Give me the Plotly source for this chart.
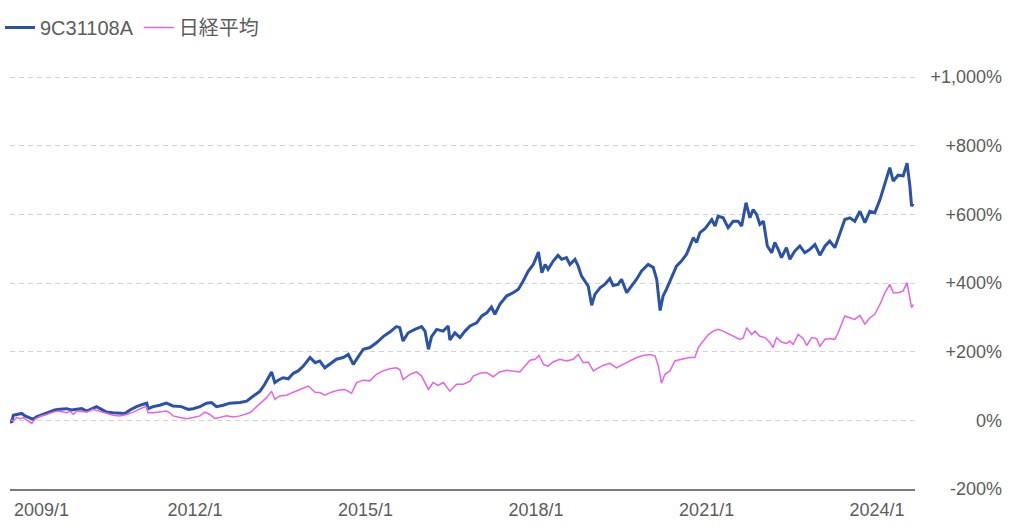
import plotly.graph_objects as go

# ---- data ----
fund_name = "9C31108A"
nikkei_name = "日経平均"

fund_dates = [
    "2008-09-29", "2008-10-10", "2008-10-20", "2008-11-21", "2008-12-13", "2009-01-04", "2009-02-05",
    "2009-02-25", "2009-03-18", "2009-04-30", "2009-06-12", "2009-07-14", "2009-08-16", "2009-09-28",
    "2009-10-30", "2009-12-01", "2010-01-03", "2010-02-04", "2010-03-06", "2010-04-08", "2010-05-10",
    "2010-06-11", "2010-07-23", "2010-09-05", "2010-10-07", "2010-11-09", "2010-12-21", "2011-02-03",
    "2011-02-25", "2011-03-05", "2011-04-07", "2011-05-19", "2011-07-01", "2011-08-13", "2011-10-06",
    "2011-11-18", "2011-12-20", "2012-02-02", "2012-03-15", "2012-04-16", "2012-05-18", "2012-06-30",
    "2012-08-12", "2012-10-16", "2012-11-28", "2013-01-10", "2013-02-22", "2013-03-24", "2013-04-15",
    "2013-05-07", "2013-05-28", "2013-06-18", "2013-07-20", "2013-08-22", "2013-09-24", "2013-10-25",
    "2013-11-27", "2014-01-09", "2014-02-11", "2014-03-13", "2014-04-14", "2014-05-16", "2014-06-28",
    "2014-08-10", "2014-09-12", "2014-10-14", "2014-11-15", "2014-12-17", "2015-01-29", "2015-03-12",
    "2015-04-24", "2015-06-06", "2015-07-18", "2015-08-09", "2015-08-30", "2015-10-02", "2015-11-14",
    "2015-12-27", "2016-01-18", "2016-02-09", "2016-02-29", "2016-04-02", "2016-05-14", "2016-06-15",
    "2016-06-26", "2016-07-28", "2016-08-30", "2016-10-01", "2016-11-03", "2016-12-15", "2017-01-17",
    "2017-02-18", "2017-03-20", "2017-04-11", "2017-05-13", "2017-06-25", "2017-08-07", "2017-09-09",
    "2017-10-10", "2017-11-12", "2017-12-14", "2018-01-16", "2018-02-07", "2018-02-28", "2018-03-19",
    "2018-04-21", "2018-05-22", "2018-06-14", "2018-07-15", "2018-08-06", "2018-09-08", "2018-09-29",
    "2018-10-20", "2018-11-11", "2018-12-02", "2018-12-24", "2019-01-14", "2019-02-16", "2019-03-18",
    "2019-04-20", "2019-05-11", "2019-06-12", "2019-07-04", "2019-08-06", "2019-09-07", "2019-10-09",
    "2019-11-10", "2019-12-22", "2020-01-24", "2020-02-15", "2020-03-08", "2020-03-27", "2020-04-18",
    "2020-05-20", "2020-06-21", "2020-07-23", "2020-08-25", "2020-09-16", "2020-10-07", "2020-10-28",
    "2020-11-19", "2020-12-21", "2021-01-12", "2021-02-03", "2021-02-24", "2021-03-16", "2021-04-17",
    "2021-05-19", "2021-06-20", "2021-07-22", "2021-08-14", "2021-09-11", "2021-10-06", "2021-10-27",
    "2021-11-18", "2021-12-09", "2022-01-01", "2022-01-26", "2022-02-23", "2022-03-15", "2022-04-06",
    "2022-04-27", "2022-05-29", "2022-06-20", "2022-07-21", "2022-08-23", "2022-09-24", "2022-10-26",
    "2022-11-28", "2022-12-30", "2023-02-01", "2023-03-03", "2023-04-05", "2023-05-06", "2023-06-08",
    "2023-07-10", "2023-08-11", "2023-09-13", "2023-10-15", "2023-11-16", "2023-12-18", "2024-01-20",
    "2024-02-21", "2024-03-23", "2024-04-14", "2024-05-16", "2024-06-17", "2024-07-12", "2024-07-30",
    "2024-08-10", "2024-08-21",
]
fund_values = [
    3, -7, 15, 17, 20, 13, 8,
    3, 10, 17, 24, 30, 32, 34,
    30, 32, 34, 27, 34, 40, 32,
    24, 22, 20, 20, 30, 40, 47,
    50, 34, 40, 44, 50, 42, 40,
    32, 34, 40, 50, 52, 40, 44,
    50, 52, 56, 71, 85, 105, 124,
    141, 110, 117, 124, 121, 137, 144,
    158, 183, 168, 173, 153, 163, 178,
    183, 192, 163, 187, 207, 212, 226,
    244, 257, 273, 270, 231, 255, 265,
    273, 260, 207, 244, 265, 260, 275,
    234, 255, 241, 260, 275, 284, 304,
    313, 330, 309, 338, 362, 372, 382,
    406, 435, 454, 490, 430, 454, 440,
    464, 481, 469, 474, 454, 469, 449,
    420, 406, 391, 335, 367, 386, 396,
    413, 393, 396, 411, 372, 391, 411,
    435, 454, 445, 411, 320, 362, 382,
    416, 449, 464, 484, 508, 532, 518,
    547, 558, 571, 585, 566, 595, 590,
    561, 580, 580, 566, 634, 590, 614,
    600, 571, 580, 508, 488, 518, 498,
    474, 503, 469, 493, 508, 488, 498,
    512, 481, 508, 522, 503, 542, 585,
    590, 580, 609, 576, 609, 605, 643,
    692, 736, 697, 714, 712, 749, 683,
    624, 632,
]

nikkei_dates = [
    "2008-09-29", "2008-10-20", "2008-11-11", "2008-12-02", "2008-12-23", "2009-01-25", "2009-02-16",
    "2009-03-07", "2009-04-09", "2009-05-22", "2009-07-03", "2009-08-05", "2009-09-06", "2009-09-28",
    "2009-10-19", "2009-11-10", "2009-12-01", "2010-02-04", "2010-03-17", "2010-04-29", "2010-06-11",
    "2010-07-23", "2010-09-05", "2010-10-18", "2010-11-30", "2011-01-12", "2011-02-14", "2011-02-25",
    "2011-03-05", "2011-04-07", "2011-05-19", "2011-07-01", "2011-07-22", "2011-08-13", "2011-09-26",
    "2011-11-08", "2011-12-20", "2012-02-02", "2012-03-04", "2012-04-06", "2012-05-08", "2012-06-09",
    "2012-07-22", "2012-09-03", "2012-10-16", "2012-12-19", "2013-02-22", "2013-04-05", "2013-05-07",
    "2013-05-28", "2013-06-29", "2013-08-12", "2013-09-24", "2013-11-06", "2013-12-29", "2014-02-11",
    "2014-03-13", "2014-04-14", "2014-05-27", "2014-07-09", "2014-08-21", "2014-10-03", "2014-11-05",
    "2014-12-17", "2015-01-29", "2015-03-12", "2015-04-24", "2015-06-06", "2015-07-18", "2015-08-09",
    "2015-08-30", "2015-10-13", "2015-11-25", "2015-12-27", "2016-02-09", "2016-03-10", "2016-04-11",
    "2016-05-14", "2016-06-26", "2016-08-08", "2016-09-20", "2016-11-03", "2016-11-23", "2017-01-06",
    "2017-02-18", "2017-03-31", "2017-05-13", "2017-06-25", "2017-08-07", "2017-09-19", "2017-10-21",
    "2017-11-23", "2017-12-25", "2018-01-20", "2018-02-17", "2018-03-19", "2018-04-21", "2018-06-03",
    "2018-07-15", "2018-08-27", "2018-09-29", "2018-10-31", "2018-12-02", "2019-01-04", "2019-02-05",
    "2019-03-07", "2019-04-20", "2019-06-02", "2019-07-14", "2019-08-26", "2019-10-09", "2019-11-21",
    "2020-01-03", "2020-02-05", "2020-02-26", "2020-03-17", "2020-04-08", "2020-05-10", "2020-06-11",
    "2020-07-23", "2020-09-16", "2020-10-17", "2020-11-08", "2020-12-10", "2021-01-12", "2021-02-13",
    "2021-03-16", "2021-04-17", "2021-06-01", "2021-07-01", "2021-08-03", "2021-08-24", "2021-09-15",
    "2021-10-17", "2021-11-08", "2021-12-09", "2022-01-12", "2022-02-13", "2022-03-04", "2022-03-26",
    "2022-04-27", "2022-05-29", "2022-06-20", "2022-07-11", "2022-08-12", "2022-09-14", "2022-10-06",
    "2022-11-08", "2022-12-09", "2022-12-30", "2023-02-01", "2023-03-03", "2023-04-05", "2023-04-26",
    "2023-06-08", "2023-07-10", "2023-08-11", "2023-09-13", "2023-10-15", "2023-11-16", "2023-12-18",
    "2024-01-20", "2024-02-21", "2024-03-23", "2024-04-14", "2024-05-16", "2024-06-17", "2024-07-12",
    "2024-07-30", "2024-08-10", "2024-08-21",
]
nikkei_values = [
    3, -2, 8, 5, 8, -2, -9,
    3, 11, 17, 24, 27, 24, 22,
    27, 17, 27, 24, 32, 27, 20,
    15, 13, 17, 24, 34, 40, 38,
    22, 22, 24, 27, 22, 13, 8,
    5, 8, 13, 24, 17, 5, 8,
    13, 10, 13, 22, 47, 66, 85,
    61, 71, 73, 82, 90, 100, 82,
    81, 73, 82, 88, 90, 79, 110,
    117, 115, 134, 144, 150, 153, 148,
    119, 134, 141, 129, 90, 110, 102,
    110, 85, 105, 105, 114, 129, 137,
    139, 127, 141, 146, 144, 141, 158,
    175, 178, 189, 163, 158, 170, 178,
    173, 178, 192, 168, 170, 144, 153,
    160, 166, 153, 163, 173, 183, 189,
    192, 187, 158, 108, 134, 144, 173,
    178, 183, 183, 212, 231, 250, 260,
    265, 260, 250, 245, 236, 240, 270,
    250, 260, 245, 241, 226, 212, 241,
    228, 224, 231, 221, 250, 238, 218,
    241, 238, 216, 236, 238, 236, 255,
    304, 299, 294, 306, 280, 299, 309,
    338, 372, 396, 372, 372, 377, 401,
    362, 328, 338,
]

x_tick_dates = ["2009-01-01", "2012-01-01", "2015-01-01", "2018-01-01", "2021-01-01", "2024-01-01"]
x_tick_labels = ["2009/1", "2012/1", "2015/1", "2018/1", "2021/1", "2024/1"]
y_tick_values = [-200, 0, 200, 400, 600, 800, 1000]
y_tick_labels = ["-200%", "0%", "+200%", "+400%", "+600%", "+800%", "+1,000%"]

# ---- styling ----
FONT = "Liberation Sans, Arial, Noto Sans CJK JP, sans-serif"
TXT = "#5c5c5c"
W, H = 1024, 532
ML, MR, MB = 0, 10, 43
Y_MIN, Y_MAX = -200, 1003          # a little head-room so the +1,000% grid line is drawn
plot_top_px_for_1000 = 77
plot_bottom_px = H - MB
px_per_unit = (plot_bottom_px - plot_top_px_for_1000) / (1000 - Y_MIN)
MT = round(plot_top_px_for_1000 - (Y_MAX - 1000) * px_per_unit)
paper_w = W - ML - MR
plot_left_px, plot_right_px = 10, 915
x_dom = [(plot_left_px - ML) / paper_w, (plot_right_px - ML) / paper_w]
y_label_px = 1002
y_pos = (y_label_px - ML) / paper_w
paper_h = H - MT - MB

fig = go.Figure()
fig.add_trace(go.Scatter(
    x=fund_dates, y=fund_values, name=fund_name, mode="lines",
    line=dict(color="#2a52a8", width=3), hoverinfo="skip"))
fig.add_trace(go.Scatter(
    x=nikkei_dates, y=nikkei_values, name=nikkei_name, mode="lines",
    line=dict(color="#e862e4", width=1.5), hoverinfo="skip"))

# first tick label is kept inside the plot's left edge (as in the reference)
shown_text = [""] + x_tick_labels[1:]

fig.update_layout(
    width=W, height=H,
    margin=dict(l=ML, r=MR, t=MT, b=MB, pad=0),
    paper_bgcolor="white", plot_bgcolor="white",
    font=dict(family=FONT, color=TXT, size=18),
    showlegend=True,
    legend=dict(orientation="h", x=0, xanchor="left", y=1 + 68 / paper_h, yanchor="top",
                font=dict(family=FONT, size=20, color=TXT), bgcolor="rgba(0,0,0,0)",
                itemclick=False, itemdoubleclick=False, tracegroupgap=0),
    xaxis=dict(
        type="date", domain=x_dom,
        range=["2008-09-29", "2024-09-01"],
        tickvals=x_tick_dates, ticktext=shown_text, ticks="",
        ticklabelstandoff=3,
        showgrid=False, zeroline=False,
        showline=True, linecolor="#7a7a7a", linewidth=2,
        tickfont=dict(family=FONT, size=18, color=TXT),
        fixedrange=True,
    ),
    yaxis=dict(
        anchor="free", position=y_pos, side="left",
        range=[Y_MIN, Y_MAX],
        tickvals=y_tick_values, ticktext=y_tick_labels, ticks="",
        showgrid=True, gridcolor="#d2d2d2", gridwidth=1, griddash="5px,4px",
        zeroline=False, showline=False,
        tickfont=dict(family=FONT, size=18, color=TXT),
        fixedrange=True,
    ),
    annotations=[dict(
        text=x_tick_labels[0], xref="paper", yref="paper",
        x=(12 - ML) / paper_w, y=0, xanchor="left", yanchor="top",
        yshift=-9, showarrow=False,
        font=dict(family=FONT, size=18, color=TXT),
    )],
)

fig.write_html("out.html", config={"displayModeBar": False})
